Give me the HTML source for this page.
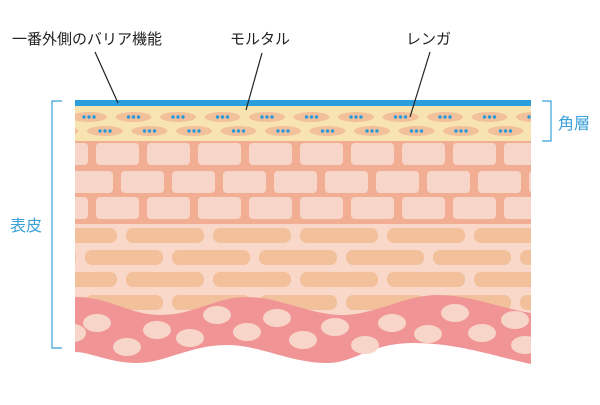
<!DOCTYPE html>
<html><head><meta charset="utf-8"><style>
body{margin:0;background:#fff;width:600px;height:400px;overflow:hidden}
svg text{font-family:"Liberation Sans","Noto Sans CJK JP",sans-serif}
</style></head><body>
<svg width="600" height="400" viewBox="0 0 600 400" xmlns="http://www.w3.org/2000/svg">
<defs>
<clipPath id="c"><rect x="75" y="100" width="456" height="270"/></clipPath>
<g id="e"><ellipse cx="0" cy="0" rx="18" ry="5" fill="#f2c09a"/><circle cx="-5" cy="0" r="1.7" fill="#2a9ad8"/><circle cx="0" cy="0" r="1.7" fill="#2a9ad8"/><circle cx="5" cy="0" r="1.7" fill="#2a9ad8"/></g>
<rect id="pb" width="43" height="22" rx="4" fill="#f8d5c9"/>
<rect id="lb" width="78" height="15" rx="7" fill="#f2c09a"/>
</defs>
<g clip-path="url(#c)">
<rect x="75" y="106" width="456" height="35" fill="#f8e4b0"/>
<rect x="75" y="100" width="456" height="6" fill="#29a0dc"/>
<g transform="translate(0,117)">
<use href="#e" x="89"/><use href="#e" x="133.5"/><use href="#e" x="178"/><use href="#e" x="222.5"/><use href="#e" x="267"/><use href="#e" x="311.5"/><use href="#e" x="356"/><use href="#e" x="400.5"/><use href="#e" x="445"/><use href="#e" x="489.5"/><use href="#e" x="534"/>
</g>
<g transform="translate(0,131)">
<use href="#e" x="60.5"/><use href="#e" x="105"/><use href="#e" x="149.5"/><use href="#e" x="194"/><use href="#e" x="238.5"/><use href="#e" x="283"/><use href="#e" x="327.5"/><use href="#e" x="372"/><use href="#e" x="416.5"/><use href="#e" x="461"/><use href="#e" x="505.5"/>
</g>
<rect x="75" y="141" width="456" height="83" fill="#f2ae92"/>
<g transform="translate(0,143)"><use href="#pb" x="45"/><use href="#pb" x="96"/><use href="#pb" x="147"/><use href="#pb" x="198"/><use href="#pb" x="249"/><use href="#pb" x="300"/><use href="#pb" x="351"/><use href="#pb" x="402"/><use href="#pb" x="453"/><use href="#pb" x="504"/></g>
<g transform="translate(0,171)"><use href="#pb" x="70"/><use href="#pb" x="121"/><use href="#pb" x="172"/><use href="#pb" x="223"/><use href="#pb" x="274"/><use href="#pb" x="325"/><use href="#pb" x="376"/><use href="#pb" x="427"/><use href="#pb" x="478"/><use href="#pb" x="529"/></g>
<g transform="translate(0,197)"><use href="#pb" x="45"/><use href="#pb" x="96"/><use href="#pb" x="147"/><use href="#pb" x="198"/><use href="#pb" x="249"/><use href="#pb" x="300"/><use href="#pb" x="351"/><use href="#pb" x="402"/><use href="#pb" x="453"/><use href="#pb" x="504"/></g>
<rect x="75" y="224" width="456" height="100" fill="#fad8c9"/>
<g transform="translate(0,228)"><use href="#lb" x="39"/><use href="#lb" x="126"/><use href="#lb" x="213"/><use href="#lb" x="300"/><use href="#lb" x="387"/><use href="#lb" x="474"/></g>
<g transform="translate(0,250)"><use href="#lb" x="-2"/><use href="#lb" x="85"/><use href="#lb" x="172"/><use href="#lb" x="259"/><use href="#lb" x="346"/><use href="#lb" x="433"/><use href="#lb" x="520"/></g>
<g transform="translate(0,272)"><use href="#lb" x="39"/><use href="#lb" x="126"/><use href="#lb" x="213"/><use href="#lb" x="300"/><use href="#lb" x="387"/><use href="#lb" x="474"/></g>
<g transform="translate(0,295)"><use href="#lb" x="-2"/><use href="#lb" x="85"/><use href="#lb" x="172"/><use href="#lb" x="259"/><use href="#lb" x="346"/><use href="#lb" x="433"/><use href="#lb" x="520"/></g>
<path d="M75,297 C110,297 130,315 160,315 C195,315 215,297 247,297 C280,297 310,315 342,315 C375,315 405,295 437,295 C470,295 500,308 531,313 L531,364 C500,358 460,343 413,343 C370,343 355,363 327,363 C290,363 260,345 227,345 C190,345 165,363 137,363 C110,363 90,352 75,352 Z" fill="#f09496"/>
<g fill="#f8d5c9">
<ellipse cx="73" cy="333" rx="13" ry="9"/><ellipse cx="97" cy="323" rx="14" ry="9"/><ellipse cx="127" cy="347" rx="14" ry="9"/><ellipse cx="157" cy="330" rx="14" ry="9"/><ellipse cx="190" cy="338" rx="14" ry="9"/><ellipse cx="217" cy="315" rx="14" ry="9"/><ellipse cx="247" cy="332" rx="14" ry="9"/><ellipse cx="277" cy="318" rx="14" ry="9"/><ellipse cx="303" cy="340" rx="14" ry="9"/><ellipse cx="335" cy="327" rx="14" ry="9"/><ellipse cx="365" cy="345" rx="14" ry="9"/><ellipse cx="392" cy="323" rx="14" ry="9"/><ellipse cx="428" cy="334" rx="14" ry="9"/><ellipse cx="455" cy="313" rx="14" ry="9"/><ellipse cx="482" cy="333" rx="14" ry="9"/><ellipse cx="515" cy="320" rx="14" ry="9"/><ellipse cx="525" cy="345" rx="14" ry="9"/>
</g>
</g>
<g stroke="#222" stroke-width="1.2">
<line x1="95" y1="52" x2="118" y2="103"/>
<line x1="262" y1="53" x2="246" y2="110"/>
<line x1="430" y1="52" x2="410" y2="117"/>
</g>
<g font-size="15" fill="#222">
<text x="12" y="44">一番外側のバリア機能</text>
<text x="230" y="44">モルタル</text>
<text x="406" y="44">レンガ</text>
</g>
<g stroke="#3aa0d8" stroke-width="1.2" fill="none">
<polyline points="542,101 551,101 551,141 542,141"/>
<polyline points="62,101 52,101 52,348 62,348"/>
</g>
<g font-size="16" fill="#3aa0d8">
<text x="558" y="129">角層</text>
<text x="10" y="231">表皮</text>
</g>
</svg>
</body></html>
